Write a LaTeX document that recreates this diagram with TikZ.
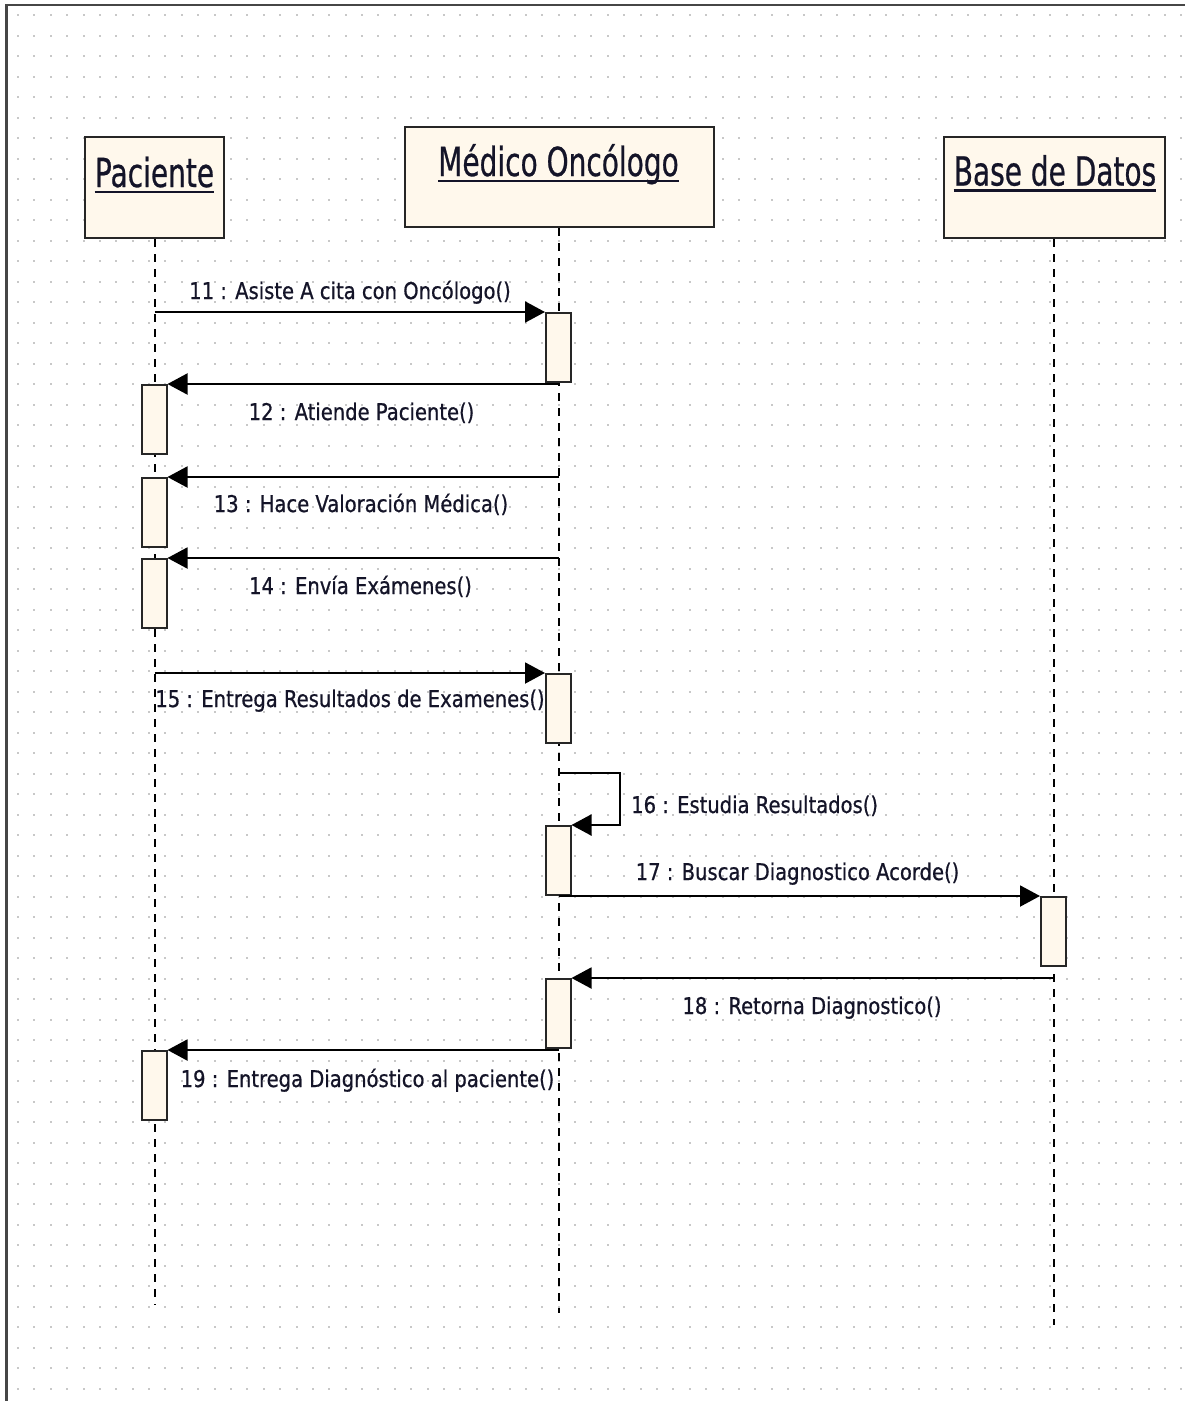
\documentclass[tikz,border=0pt]{standalone}
\usepackage{fontspec}
\usetikzlibrary{arrows.meta}
\newfontfamily\titlefont[FakeStretch=0.70,FakeBold=0.6]{DejaVu Sans}
\newfontfamily\msgfont[FakeStretch=0.85,FakeBold=0.7]{DejaVu Sans}
\definecolor{boxfill}{RGB}{255,248,236}
\definecolor{ink}{RGB}{20,20,40}
\definecolor{gridc}{RGB}{200,200,200}
\definecolor{framec}{RGB}{70,70,70}

\begin{document}
\begin{tikzpicture}[x=1pt,y=-1pt,
  objbox/.style={draw=black!85, line width=2pt, fill=boxfill, inner sep=0pt},
  actbox/.style={draw=black!85, line width=2pt, fill=boxfill, inner sep=0pt,
    minimum width=24.5pt, minimum height=69pt, anchor=north west},
  lifeline/.style={draw=black, line width=2pt, dash pattern=on 8pt off 7pt},
  msg/.style={draw=black, line width=2pt, -{Triangle[length=20pt,width=21pt]}},
  title/.style={font=\titlefont\fontsize{40}{40}\selectfont, text=ink, inner sep=0pt, anchor=base},
  lbl/.style={font=\msgfont\fontsize{23}{23}\selectfont, text=ink, inner sep=0pt, anchor=base},
  uline/.style={draw=ink, line width=2.2pt}]

% canvas and dotted grid
\fill[white] (0,0) rectangle (1185,1401);
\useasboundingbox (0,0) rectangle (1185,1401);
\foreach \i in {0,...,71}
  \foreach \j in {0,...,67}
    \fill[gridc] ({17+16.385*\i},{14+20.5*\j}) rectangle ++(2,2);
\draw[framec, line width=2.2pt] (6.5,1401) -- (6.5,5) -- (1185,5);

% objects
\node[objbox, minimum width=139pt, minimum height=101pt] (pac) at (154.5,187.5) {};
\node[objbox, minimum width=309pt, minimum height=100pt] (med) at (559,177) {};
\node[objbox, minimum width=221pt, minimum height=101pt] (bd) at (1054,187.5) {};

\node[title] (pacT) at (154.5,187) {Paciente};
\node[title] (medT) at (558.5,176) {Médico Oncólogo};
\node[title] (bdT) at (1055,185.5) {Base de Datos};
\draw[uline] ([yshift=-5pt]pacT.base west) -- ([yshift=-5pt]pacT.base east);
\draw[uline] ([yshift=-5pt]medT.base west) -- ([yshift=-5pt]medT.base east);
\draw[uline] ([yshift=-5pt]bdT.base west) -- ([yshift=-5pt]bdT.base east);

% lifelines
\coordinate (pacE) at (154.5,1305);
\coordinate (medE) at (559,1313);
\coordinate (bdE) at (1054,1325);
\draw[lifeline] (pac.south) -- (pacE);
\draw[lifeline] (med.south) -- (medE);
\draw[lifeline] (bd.south) -- (bdE);

% activations
\node[actbox] (m1) at (545,312) {};
\node[actbox] (p1) at (141,384) {};
\node[actbox] (p2) at (141,477) {};
\node[actbox] (p3) at (141,558) {};
\node[actbox] (m2) at (545,673) {};
\node[actbox] (m3) at (545,825) {};
\node[actbox] (b1) at (1040,896) {};
\node[actbox] (m4) at (545,978) {};
\node[actbox] (p4) at (141,1050) {};

% messages
\draw[msg] (m1.north west -| pac.south) -- (m1.north west);
\draw[msg] (p1.north east -| med.south) -- (p1.north east);
\draw[msg] (p2.north east -| med.south) -- (p2.north east);
\draw[msg] (p3.north east -| med.south) -- (p3.north east);
\draw[msg] (m2.north west -| pac.south) -- (m2.north west);
\coordinate (selfA) at (559,773);
\draw[msg] (selfA) -- ++(61,0) |- (m3.north east);
\draw[msg] (b1.north west -| med.south) -- (b1.north west);
\draw[msg] (m4.north east -| bd.south) -- (m4.north east);
\draw[msg] (p4.north east -| med.south) -- (p4.north east);

% message labels
\node[lbl] (l11) at (350,299) {11 : Asiste A cita con Oncólogo()};
\node[lbl] (l12) at (361.5,420) {12 : Atiende Paciente()};
\node[lbl] (l13) at (361,512) {13 : Hace Valoración Médica()};
\node[lbl] (l14) at (360.5,594) {14 : Envía Exámenes()};
\node[lbl] (l15) at (350,707) {15 : Entrega Resultados de Examenes()};
\node[lbl, anchor=base west] (l16) at (631,813) {16 : Estudia Resultados()};
\node[lbl] (l17) at (797.5,880) {17 : Buscar Diagnostico Acorde()};
\node[lbl] (l18) at (812,1014) {18 : Retorna Diagnostico()};
\node[lbl] (l19) at (367.5,1087) {19 : Entrega Diagnóstico al paciente()};
\end{tikzpicture}
\end{document}
